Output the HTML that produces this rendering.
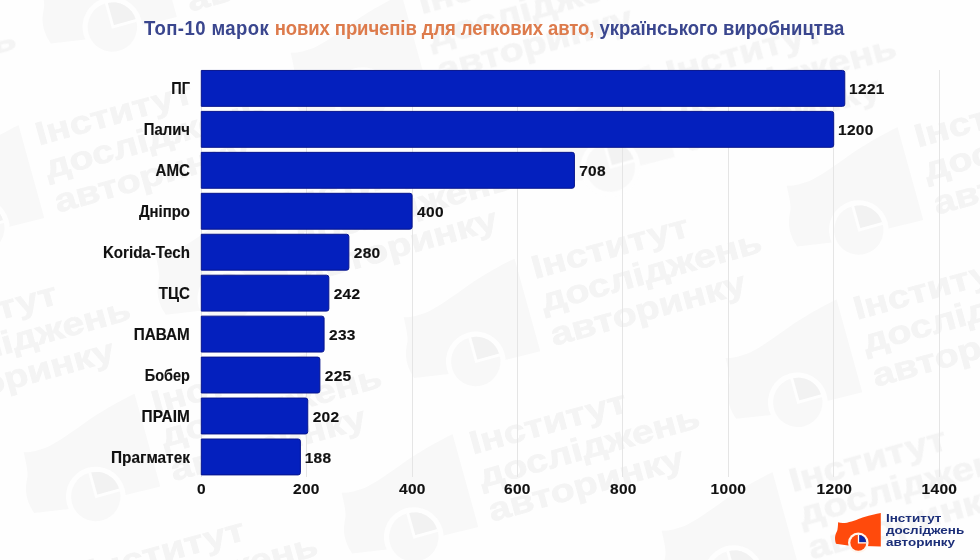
<!DOCTYPE html>
<html lang="uk">
<head>
<meta charset="utf-8">
<title>Топ-10 марок нових причепів</title>
<style>
html,body{margin:0;padding:0;}
body{width:980px;height:560px;position:relative;overflow:hidden;background:#fefefe;font-family:"Liberation Sans",sans-serif;font-weight:bold;color:#111;}
.title{position:absolute;left:144px;top:17.7px;text-align:left;font-size:18.55px;line-height:22px;white-space:nowrap;color:#3a468e;transform:scaleY(1.045);transform-origin:0 17px;}
.title .o{color:#dd7b4c;letter-spacing:-.1px;}
.title .a{letter-spacing:.4px;}
.grid{position:absolute;top:70px;height:407px;width:1px;background:#e5e5e5;}
.cat{position:absolute;left:0;width:189.9px;text-align:right;font-size:15.7px;line-height:36px;margin-top:.3px;height:36px;white-space:nowrap;transform-origin:100% 50%;-webkit-text-stroke:.15px #111;}
.val{position:absolute;font-size:15.5px;letter-spacing:.3px;-webkit-text-stroke:.15px #111;line-height:36px;margin-top:.3px;margin-left:.7px;height:36px;white-space:nowrap;}
.ax{position:absolute;top:477.75px;width:60px;margin-left:-29.6px;text-align:center;font-size:15.5px;letter-spacing:.3px;-webkit-text-stroke:.15px #111;line-height:22px;}

.logo{position:absolute;left:830px;top:506px;width:60px;height:48px;}
.lt{position:absolute;left:885.8px;transform:scaleX(1.192);transform-origin:0 0;font-size:11.3px;line-height:12px;height:12px;white-space:nowrap;color:#1b2e78;}
#root{position:absolute;left:0;top:0;width:980px;height:560px;overflow:hidden;will-change:transform;}
</style>
</head>
<body>
<div id="root">

<svg class="wm" width="980" height="560" viewBox="0 0 980 560" style="position:absolute;left:0;top:0">
<defs>
<g id="wm" transform="translate(-880.7,-546.5)">
<path fill="#f8f8f8" d="M838.1,522.3 C840,523 843,523.2 847,522.7 C853,521.5 860,518.5 864.3,517.1 C870,515.3 876,513.8 880.8,513 L880.8,546.5 L848,545.6 L836,543.7 C835,541 834.8,538 835.2,536 C835.8,533 837,531.5 837.4,530 C838,527 838,524.5 838.1,522.3 Z"/>
<circle cx="858.2" cy="543.9" r="10.4" fill="#fefefe"/>
<circle cx="858.2" cy="543.9" r="8.6" fill="#f8f8f8"/>
<path fill="#f2f2f2" d="M858.6,543.5 L858.6,535.4 A8.1,8.1 0 0 1 866.7,543.5 Z"/>
<path fill="none" stroke="#fefefe" stroke-width="1" d="M858.4,535.2 L858.4,543.9 L866.9,543.9"/>
<g fill="#f4f4f4" stroke="#f4f4f4" stroke-width=".25" font-family="Liberation Sans, sans-serif" font-weight="bold" font-size="11.3">
<text transform="translate(885.8,521.7) scale(1.21,1)">Інститут</text>
<text transform="translate(885.8,533.7) scale(1.21,1)">досліджень</text>
<text transform="translate(885.8,546) scale(1.21,1)">авторинку</text>
</g>
</g>
</defs>
<use href="#wm" transform="translate(176.6,17) rotate(-15.5) scale(2.87)"/>
<use href="#wm" transform="translate(-206,148) rotate(-15.5) scale(2.87)"/>
<use href="#wm" transform="translate(44,218) rotate(-15.5) scale(2.87)"/>
<use href="#wm" transform="translate(427,87) rotate(-15.5) scale(2.87)"/>
<use href="#wm" transform="translate(674.6,157.1) rotate(-15.5) scale(2.87)"/>
<use href="#wm" transform="translate(291.6,288.1) rotate(-15.5) scale(2.87)"/>
<use href="#wm" transform="translate(-91.4,419.1) rotate(-15.5) scale(2.87)"/>
<use href="#wm" transform="translate(160,486.5) rotate(-15.5) scale(2.87)"/>
<use href="#wm" transform="translate(540,351.4) rotate(-15.5) scale(2.87)"/>
<use href="#wm" transform="translate(923,220) rotate(-15.5) scale(2.87)"/>
<use href="#wm" transform="translate(862,392.3) rotate(-15.5) scale(2.87)"/>
<use href="#wm" transform="translate(478,527) rotate(-15.5) scale(2.87)"/>
<use href="#wm" transform="translate(96,655) rotate(-15.5) scale(2.87)"/>
<use href="#wm" transform="translate(798,565) rotate(-15.5) scale(2.87)"/>
</svg>
<div class="title"><span class="a">Топ-10 марок </span><span class="o">нових причепів для легкових авто, </span><span class="b">українського виробництва</span></div>

<div class="grid" style="left:201px"></div>
<div class="grid" style="left:306px"></div>
<div class="grid" style="left:412px"></div>
<div class="grid" style="left:517px"></div>
<div class="grid" style="left:622px"></div>
<div class="grid" style="left:728px"></div>
<div class="grid" style="left:833px"></div>
<div class="grid" style="left:939px"></div>

<svg width="980" height="560" viewBox="0 0 980 560" style="position:absolute;left:0;top:0">
<g fill="#0420be" stroke="#07148c" stroke-width="1">
<path d="M201.30,70.45 H842.57 Q844.77,70.45 844.77,72.65 V104.15 Q844.77,106.35 842.57,106.35 H201.30 Z"/>
<path d="M201.30,111.40 H831.50 Q833.70,111.40 833.70,113.60 V145.10 Q833.70,147.30 831.50,147.30 H201.30 Z"/>
<path d="M201.30,152.35 H572.22 Q574.42,152.35 574.42,154.55 V186.05 Q574.42,188.25 572.22,188.25 H201.30 Z"/>
<path d="M201.30,193.30 H409.90 Q412.10,193.30 412.10,195.50 V227.00 Q412.10,229.20 409.90,229.20 H201.30 Z"/>
<path d="M201.30,234.25 H346.66 Q348.86,234.25 348.86,236.45 V267.95 Q348.86,270.15 346.66,270.15 H201.30 Z"/>
<path d="M201.30,275.20 H326.63 Q328.83,275.20 328.83,277.40 V308.90 Q328.83,311.10 326.63,311.10 H201.30 Z"/>
<path d="M201.30,316.15 H321.89 Q324.09,316.15 324.09,318.35 V349.85 Q324.09,352.05 321.89,352.05 H201.30 Z"/>
<path d="M201.30,357.10 H317.68 Q319.88,357.10 319.88,359.30 V390.80 Q319.88,393.00 317.68,393.00 H201.30 Z"/>
<path d="M201.30,398.05 H305.55 Q307.75,398.05 307.75,400.25 V431.75 Q307.75,433.95 305.55,433.95 H201.30 Z"/>
<path d="M201.30,439.00 H298.18 Q300.38,439.00 300.38,441.20 V472.70 Q300.38,474.90 298.18,474.90 H201.30 Z"/>
</g>
</svg>
<div class="cat" style="top:70.5px;transform:scaleX(0.928)">ПГ</div><div class="val" style="top:70.5px;left:848.4px">1221</div>
<div class="cat" style="top:111.5px;transform:scaleX(0.946)">Палич</div><div class="val" style="top:111.5px;left:837.3px">1200</div>
<div class="cat" style="top:152.5px;transform:scaleX(0.961)">АМС</div><div class="val" style="top:152.5px;left:578.5px">708</div>
<div class="cat" style="top:193.5px;transform:scaleX(0.95)">Дніпро</div><div class="val" style="top:193.5px;left:416.4px">400</div>
<div class="cat" style="top:234.5px;transform:scaleX(0.962)">Korida-Tech</div><div class="val" style="top:234.5px;left:353.1px">280</div>
<div class="cat" style="top:275.5px;transform:scaleX(0.962)">ТЦС</div><div class="val" style="top:275.5px;left:333px">242</div>
<div class="cat" style="top:316.5px;transform:scaleX(0.976)">ПАВАМ</div><div class="val" style="top:316.5px;left:328.3px">233</div>
<div class="cat" style="top:357.5px;transform:scaleX(0.922)">Бобер</div><div class="val" style="top:357.5px;left:324.1px">225</div>
<div class="cat" style="top:398.5px;transform:scaleX(0.983)">ПРАІМ</div><div class="val" style="top:398.5px;left:312px">202</div>
<div class="cat" style="top:439.5px;transform:scaleX(0.98)">Прагматек</div><div class="val" style="top:439.5px;left:304px">188</div>

<div class="ax" style="left:201px">0</div>
<div class="ax" style="left:306px">200</div>
<div class="ax" style="left:412px">400</div>
<div class="ax" style="left:517px">600</div>
<div class="ax" style="left:623px">800</div>
<div class="ax" style="left:728px">1000</div>
<div class="ax" style="left:834px">1200</div>
<div class="ax" style="left:939px">1400</div>

<svg class="logo" viewBox="830 506 60 48">
<path fill="#ff4a0c" d="M838.1,522.3 C840,523 843,523.2 847,522.7 C853,521.5 860,518.5 864.3,517.1 C870,515.3 876,513.8 880.8,513 L880.8,546.5 L848,545.6 L836,543.7 C835,541 834.8,538 835.2,536 C835.8,533 837,531.5 837.4,530 C838,527 838,524.5 838.1,522.3 Z"/>
<circle cx="858.3" cy="542.8" r="10.3" fill="#fff6ee"/>
<circle cx="858.3" cy="542.8" r="8" fill="#ff4a0c"/>
<path fill="#0d2aa6" d="M858.7,542.4 L858.7,534.9 A7.5,7.5 0 0 1 866.2,542.4 Z"/>
<path fill="none" stroke="#fff" stroke-width="1.3" d="M858.5,534.6 L858.5,542.8 L866.6,542.8"/>
</svg>
<div class="lt" style="top:512px">Інститут</div>
<div class="lt" style="top:524px">досліджень</div>
<div class="lt" style="top:536.3px">авторинку</div>
</div>
</body>
</html>
